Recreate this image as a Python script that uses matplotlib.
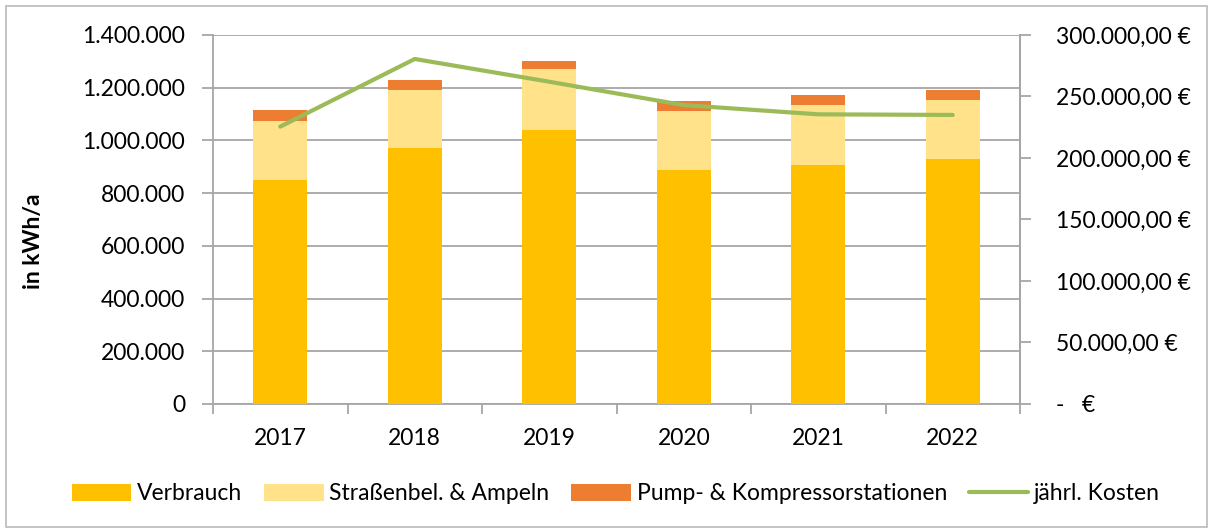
import matplotlib.pyplot as plt
import numpy as np
from matplotlib.patches import Rectangle
from matplotlib.ticker import FuncFormatter, MultipleLocator

years = ["2017", "2018", "2019", "2020", "2021", "2022"]
verbrauch = [850000, 972000, 1041000, 888000, 907000, 929000]
strassen = [225000, 220000, 230000, 222000, 227000, 224000]
pump = [40000, 37000, 31000, 39000, 39000, 37000]
kosten = [225500, 280500, 262000, 243000, 235500, 235000]

plt.rcParams["font.family"] = ["Lato", "DejaVu Sans"]
FS = 16.5

fig = plt.figure(figsize=(12.13, 5.31), dpi=100)
ax = fig.add_axes([0.1756, 0.2392, 0.6653, 0.6949])
ax2 = ax.twinx()

x = np.arange(len(years))
grid_col = "#A6A6A6"

ax.bar(x, verbrauch, width=0.4, color="#FFC000", label="Verbrauch", zorder=3)
bottom2 = np.array(verbrauch)
ax.bar(x, strassen, width=0.4, bottom=bottom2, color="#FFE28A",
       label="Straßenbel. & Ampeln", zorder=3)
bottom3 = bottom2 + np.array(strassen)
ax.bar(x, pump, width=0.4, bottom=bottom3, color="#ED7D31",
       label="Pump- & Kompressorstationen", zorder=3)

ax2.plot(x, kosten, color="#9BBB59", lw=3, label="jährl. Kosten",
         solid_capstyle="round", solid_joinstyle="round")

ax.set_xlim(-0.5, len(years) - 0.5)
ax.set_ylim(0, 1400000)
ax2.set_ylim(0, 300000)
ax.yaxis.set_major_locator(MultipleLocator(200000))
ax2.yaxis.set_major_locator(MultipleLocator(50000))

ax.yaxis.set_major_formatter(FuncFormatter(lambda v, p: f"{int(v):,}".replace(",", ".")))


def euro(v, p):
    if v == 0:
        return "-   €"
    s = f"{v:,.2f}".replace(",", "X").replace(".", ",").replace("X", ".")
    return s + " €"


ax2.yaxis.set_major_formatter(FuncFormatter(euro))

ax.grid(axis="y", color=grid_col, lw=1.3, zorder=0)
ax.set_axisbelow(True)

ax.set_xticks(x)
ax.set_xticklabels(years, fontsize=FS)
ax.set_xticks(np.arange(-0.5, len(years)), minor=True)
ax.tick_params(axis="x", which="major", length=0, pad=17)
ax.tick_params(axis="x", which="minor", length=7, color=grid_col, width=1.3)
ax.tick_params(axis="y", labelsize=FS, length=8, color=grid_col, width=1.3, pad=12)
ax2.tick_params(axis="y", labelsize=FS, length=8, color=grid_col, width=1.3, pad=18)

for a in (ax, ax2):
    a.spines["top"].set_visible(False)
    for side in ("left", "right", "bottom"):
        a.spines[side].set_color(grid_col)
        a.spines[side].set_linewidth(1.3)
ax2.spines["left"].set_visible(False)
ax2.spines["bottom"].set_visible(False)

fig.text(0.028, 1 - 241 / 531, "in kWh/a", rotation=90, fontsize=FS,
         fontweight="bold", ha="center", va="center")

h1, l1 = ax.get_legend_handles_labels()
h2, l2 = ax2.get_legend_handles_labels()
fig.legend(h1 + h2, l1 + l2, loc="center", bbox_to_anchor=(616 / 1213, 1 - 494 / 531),
           ncol=4, frameon=False, fontsize=FS, handlelength=2.6, handleheight=0.7,
           handletextpad=0.25, columnspacing=0.95)

fig.patches.append(Rectangle((6 / 1213, 4 / 531), 1201 / 1213, 521 / 531,
                             transform=fig.transFigure, fill=False,
                             edgecolor="#BFBFBF", lw=1.3))

fig.savefig("out.png", dpi=100)
